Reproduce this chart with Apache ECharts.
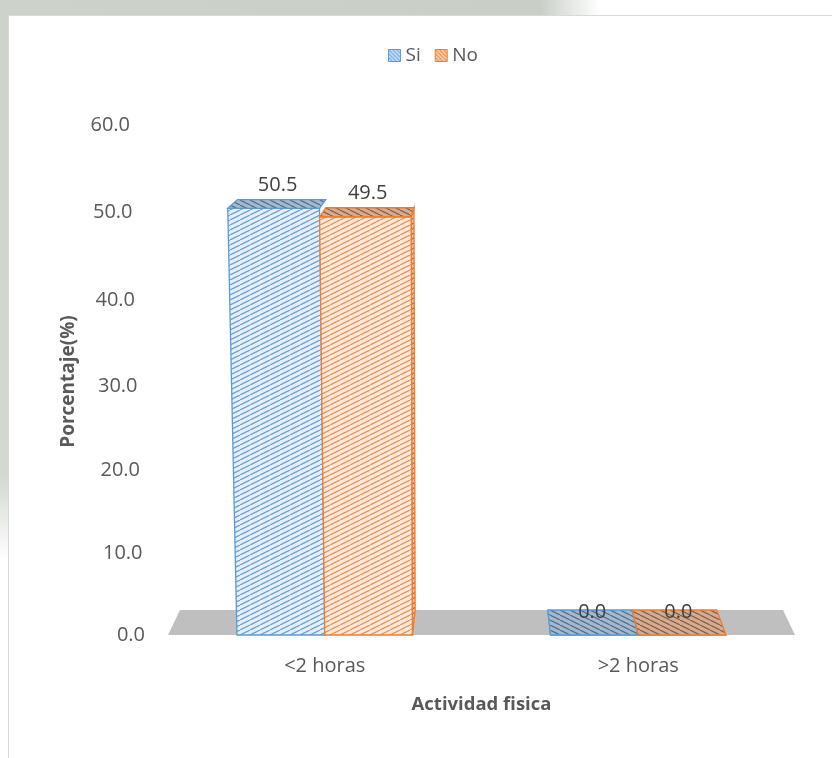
<!DOCTYPE html>
<html>
<head>
<meta charset="utf-8">
<script src="https://cdn.jsdelivr.net/npm/echarts@6/dist/echarts.min.js"></script>
<style>
  html, body { margin: 0; padding: 0; background: #ffffff; }
  #chart { width: 832px; height: 758px; }
</style>
</head>
<body>
<div id="chart"></div>
<script>
// Categories, series and value axis
const categories = ['<2 horas', '>2 horas'];
const seriesNames = ['Si', 'No'];
const siValues = [50.5, 0.0];
const noValues = [49.5, 0.0];
const yMin = 0;
const yMax = 60;
const yStep = 10;

const FONT = '"Open Sans", "Noto Sans", sans-serif';
const BLUE = '#5b9bd5';
const ORANGE = '#ed7d31';

// Diagonal hatch tile used as a repeating fill
function hatch(bg, fg, dir, w, h, lw) {
  const c = document.createElement('canvas');
  c.width = w; c.height = h;
  const g = c.getContext('2d');
  g.fillStyle = bg;
  g.fillRect(0, 0, w, h);
  g.strokeStyle = fg;
  g.lineWidth = lw;
  for (let i = -1; i <= 1; i++) {
    g.beginPath();
    if (dir > 0) { g.moveTo(i * w, h); g.lineTo(i * w + w, 0); }
    else { g.moveTo(i * w, 0); g.lineTo(i * w + w, h); }
    g.stroke();
  }
  return { image: c, repeat: 'repeat' };
}

const styles = {
  Si: {
    stroke: BLUE,
    front: hatch('#e6eff9', '#6aa0d5', 1, 10, 5, 1.3),
    top: hatch('#a7b8ca', '#4a6f96', -1, 10, 5, 1.2),
    side: hatch('#b9cde2', '#4f7fb0', 1, 10, 5, 1.2),
    legend: hatch('#d6e5f4', '#5b9bd5', -1, 4, 4, 1.2)
  },
  No: {
    stroke: ORANGE,
    front: hatch('#fdeadc', '#ef9155', 1, 10, 5, 1.3),
    top: hatch('#cfae95', '#93593a', -1, 10, 5, 1.2),
    side: hatch('#f2c3a0', '#c8642a', 1, 10, 5, 1.2),
    legend: hatch('#fbd9c1', '#ed7d31', -1, 4, 4, 1.2)
  }
};

// Perspective helpers: vertical edges converge slightly downward,
// depth recedes toward a vanishing point above the plot.
const DEPTH = 0.0383;
const TILT = 1.063e-4;

function projector(cs, baseY) {
  const vx = cs.x + cs.width / 2;
  const vy = cs.y - 146;
  const tx = cs.x + cs.width * 0.434;
  return function (x, y, z) {
    const xt = tx + (x - tx) * (1 + TILT * (baseY - y));
    const d = DEPTH * z;
    return [xt + (vx - xt) * d, y + (vy - y) * d];
  };
}

function barRenderer(name, side) {
  const st = styles[name];
  return function (params, api) {
    const cat = api.value(0);
    const val = api.value(1);
    const base = api.coord([cat, 0]);
    const top = api.coord([cat, val]);
    const band = api.size([1, 0])[0];
    const w = band * 0.28;
    const x0 = side < 0 ? base[0] - w : base[0];
    const x1 = x0 + w;
    const by = base[1];
    const ty = top[1];
    const cs = params.coordSys;
    const P = projector(cs, by);
    const vx = cs.x + cs.width / 2;
    const children = [];
    const lw = 1.3;

    children.push({
      type: 'polygon',
      shape: { points: [P(x0, by, 0), P(x1, by, 0), P(x1, ty, 0), P(x0, ty, 0)] },
      style: { fill: st.front, stroke: st.stroke, lineWidth: lw }
    });
    if (side > 0 && x1 < vx) {
      children.push({
        type: 'polygon',
        shape: { points: [P(x1, by, 0), P(x1, ty, 0), P(x1, ty, 1), P(x1, by, 1)] },
        style: { fill: st.side, stroke: st.stroke, lineWidth: lw }
      });
    }
    if (side < 0 && x0 > vx) {
      children.push({
        type: 'polygon',
        shape: { points: [P(x0, by, 0), P(x0, ty, 0), P(x0, ty, 1), P(x0, by, 1)] },
        style: { fill: st.side, stroke: st.stroke, lineWidth: lw }
      });
    }
    const tf0 = P(x0, ty, 0), tf1 = P(x1, ty, 0), tb1 = P(x1, ty, 1), tb0 = P(x0, ty, 1);
    children.push({
      type: 'polygon',
      shape: { points: [tf0, tf1, tb1, tb0] },
      style: { fill: st.top, stroke: st.stroke, lineWidth: lw }
    });
    const lx = ((tf0[0] + tf1[0]) / 2 + (tb0[0] + tb1[0]) / 2) / 2;
    children.push({
      type: 'text',
      x: lx,
      y: ty - 23,
      style: {
        text: val.toFixed(1),
        fill: '#404040',
        font: '20px ' + FONT,
        textAlign: 'center',
        textVerticalAlign: 'middle'
      }
    });
    return { type: 'group', children: children };
  };
}

// Grey floor under the bars
function floorRenderer(params, api) {
  const cs = params.coordSys;
  const baseY = api.coord([0, 0])[1];
  const P = projector(cs, baseY);
  const xa = cs.x, xb = cs.x + cs.width;
  return {
    type: 'polygon',
    shape: { points: [P(xa, baseY, 0), P(xb, baseY, 0), P(xb, baseY, 1), P(xa, baseY, 1)] },
    style: { fill: '#bfbfbf' }
  };
}

// Small nudges so tick labels follow the receding wall
function tickLabel(v) {
  const right = v / 4;
  const dy = 5 * Math.sin(Math.PI * v / 50);
  const pt = dy > 0 ? 2 * dy : 0;
  const pb = dy < 0 ? -2 * dy : 0;
  return { right: right, top: pt, bottom: pb };
}

const rich = {};
for (let v = yMin; v <= yMax; v += yStep) {
  const t = tickLabel(v);
  rich['t' + v] = {
    fontSize: 20, fontFamily: FONT, color: '#595959',
    padding: [t.top, t.right, t.bottom, 0]
  };
}

const chart = echarts.init(document.getElementById('chart'), null, { renderer: 'canvas' });

chart.setOption({
  backgroundColor: '#ffffff',
  animation: false,
  graphic: [
    { type: 'rect', z: -5, shape: { x: 0, y: 0, width: 600, height: 15 },
      style: { fill: { type: 'linear', x: 0, y: 0, x2: 1, y2: 0,
        colorStops: [{ offset: 0, color: '#cdd3ca' }, { offset: 0.9, color: '#c9cfc6' }, { offset: 1, color: '#ffffff' }] } } },
    { type: 'rect', z: -5, shape: { x: 0, y: 0, width: 8, height: 560 },
      style: { fill: { type: 'linear', x: 0, y: 0, x2: 0, y2: 1,
        colorStops: [{ offset: 0, color: '#cdd3ca' }, { offset: 0.85, color: '#d3d8d0' }, { offset: 1, color: '#ffffff' }] } } },
    { type: 'rect', z: -4, shape: { x: 8.5, y: 15.5, width: 900, height: 800 },
      style: { fill: '#ffffff', stroke: '#d9d9d9', lineWidth: 1 } }
  ],
  legend: {
    left: 383,
    top: 41,
    itemWidth: 12,
    itemHeight: 12,
    itemGap: 14,
    icon: 'rect',
    textStyle: { fontSize: 19, fontFamily: FONT, color: '#595959' },
    data: [
      { name: seriesNames[0], itemStyle: { color: styles.Si.legend, borderColor: BLUE, borderWidth: 1 } },
      { name: seriesNames[1], itemStyle: { color: styles.No.legend, borderColor: ORANGE, borderWidth: 1 } }
    ]
  },
  grid: { left: 168, right: 37, top: 128, bottom: 123, containLabel: false },
  xAxis: {
    type: 'category',
    data: categories,
    name: 'Actividad fisica',
    nameLocation: 'middle',
    nameGap: 60,
    nameTextStyle: { fontSize: 18.5, fontWeight: 'bold', fontFamily: FONT, color: '#595959' },
    axisLine: { show: false },
    axisTick: { show: false },
    axisLabel: { margin: 21, fontSize: 20, fontFamily: FONT, color: '#595959' },
    splitLine: { show: false }
  },
  yAxis: {
    type: 'value',
    min: yMin,
    max: yMax,
    interval: yStep,
    name: 'Porcentaje(%)',
    nameLocation: 'middle',
    nameGap: 90,
    nameTextStyle: { fontSize: 19, fontWeight: 'bold', fontFamily: FONT, color: '#595959' },
    axisLine: { show: false },
    axisTick: { show: false },
    splitLine: { show: false },
    axisLabel: {
      margin: 23,
      formatter: function (v) { return '{t' + v + '|' + v.toFixed(1) + '}'; },
      rich: rich
    }
  },
  series: [
    {
      type: 'custom',
      name: 'floor',
      silent: true,
      z: 1,
      renderItem: floorRenderer,
      data: [[0, 0]],
      encode: { x: 0, y: 1 }
    },
    {
      type: 'custom',
      name: seriesNames[0],
      z: 3,
      itemStyle: { color: styles.Si.legend, borderColor: BLUE },
      renderItem: barRenderer('Si', -1),
      data: siValues.map(function (v, i) { return [i, v]; }),
      encode: { x: 0, y: 1 }
    },
    {
      type: 'custom',
      name: seriesNames[1],
      z: 4,
      itemStyle: { color: styles.No.legend, borderColor: ORANGE },
      renderItem: barRenderer('No', 1),
      data: noValues.map(function (v, i) { return [i, v]; }),
      encode: { x: 0, y: 1 }
    }
  ]
});
</script>
</body>
</html>
